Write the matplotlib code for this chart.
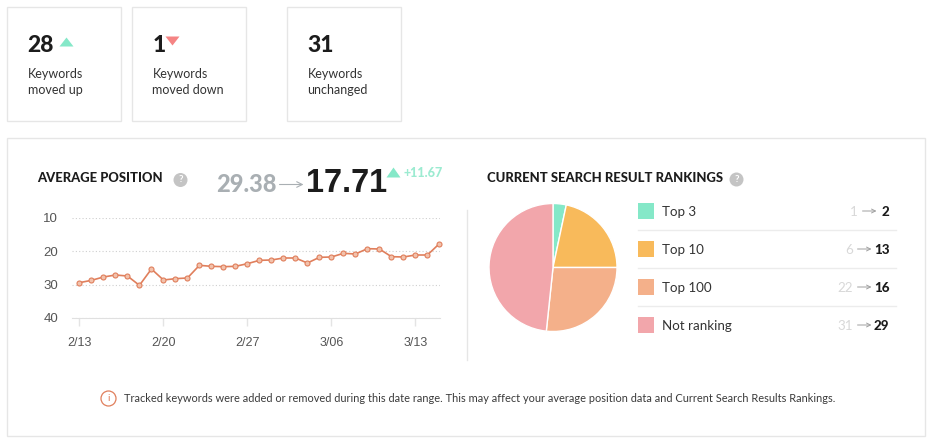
#!/usr/bin/env python3

import numpy as np
import matplotlib.pyplot as plt
from matplotlib.patches import Rectangle, Circle

plt.rcParams['font.family'] = ['Lato', 'DejaVu Sans']

# average position per day, 2/13 to 3/15
positions = [29.4, 28.7, 27.7, 27.1, 27.4, 30.2, 25.3, 28.6, 28.2, 28.0,
             24.2, 24.5, 24.6, 24.5, 23.7, 22.7, 22.6, 22.0, 22.0, 23.5,
             21.8, 21.7, 20.6, 20.8, 19.2, 19.3, 21.6, 21.7, 21.1, 21.1, 17.7]
date_ticks = [0, 7, 14, 21, 28]
date_labels = ['2/13', '2/20', '2/27', '3/06', '3/13']
position_ticks = [10, 20, 30, 40]

# rankings
rank_names = ['Top 3', 'Top 10', 'Top 100', 'Not ranking']
rank_prev = [1, 6, 22, 31]
rank_now = [2, 13, 16, 29]
rank_colors = ['#85E8C8', '#F8BA5B', '#F4B08A', '#F2A6AB']

# summary cards
card_counts = ['28', '1', '31']
card_lines = ['Keywords\nmoved up', 'Keywords\nmoved down', 'Keywords\nunchanged']
card_lefts = [7.5, 132.5, 287.5]

DARK = '#1c1c1c'
BORDER = '#e6e6e6'

fig = plt.figure(figsize=(9.34, 4.46), dpi=100, facecolor='white')

# page layer in pixel coordinates
page = fig.add_axes([0, 0, 1, 1])
page.set_xlim(0.5, 934.5)
page.set_ylim(446.5, 0.5)
page.axis('off')

for left, count, lines in zip(card_lefts, card_counts, card_lines):
    page.add_patch(Rectangle((left, 7.5), 114, 114, fc='white', ec=BORDER, lw=1))
    page.text(left + 20.5, 46, count, fontsize=16.5, fontweight=900, color=DARK, va='center')
    page.text(left + 20.5, 82.5, lines, fontsize=9, color='#333333', va='center', linespacing=1.3)

page.fill([60, 74, 67], [47, 47, 38], color='#85E8C8', lw=0)
page.fill([166, 180, 173], [37, 37, 46], color='#F58484', lw=0)

page.add_patch(Rectangle((7.5, 138.5), 918, 298, fc='white', ec=BORDER, lw=1))
page.plot([467, 467], [210, 360], color=BORDER, lw=1)

# header left
page.text(38, 178.5, 'AVERAGE POSITION', fontsize=9.4, fontweight=900, color=DARK, va='center')
page.add_patch(Circle((181, 180.5), 7, fc='#c4c4c4', ec='none'))
page.text(181, 180.5, '?', fontsize=7, fontweight='bold', color='white', ha='center', va='center')
page.text(217, 184.5, '29.38', fontsize=17, fontweight=900, color='#a9afb3', va='center')
page.annotate('', xy=(304, 185), xytext=(280, 185),
              arrowprops=dict(arrowstyle='->', color='#a9afb3', lw=0.8, shrinkA=0, shrinkB=0))
page.text(306.5, 184.5, '17.71', fontsize=23.5, fontweight='bold', family='Liberation Sans',
          color=DARK, va='center')
page.fill([387, 401, 394], [178, 178, 168], color='#85E8C8', lw=0)
page.text(404, 173.5, '+11.67', fontsize=9, fontweight=900, color='#9CEBD1', va='center')

# header right
page.text(487.5, 178.5, 'CURRENT SEARCH RESULT RANKINGS', fontsize=9.4, fontweight=900,
          color=DARK, va='center')
page.add_patch(Circle((737, 180), 7, fc='#c4c4c4', ec='none'))
page.text(737, 180, '?', fontsize=7, fontweight='bold', color='white', ha='center', va='center')

# rank legend rows
for i, (name, prev, now, color) in enumerate(zip(rank_names, rank_prev, rank_now, rank_colors)):
    y = 211 + i * 38
    page.add_patch(Rectangle((638, y - 8), 16, 16, fc=color, ec='none'))
    page.text(662, y + 1, name, fontsize=9.6, color='#333333', va='center')
    page.text(890, y + 1, str(now), fontsize=9.6, fontweight=900, color=DARK, va='center', ha='right')
    arrow_end = 890 - 8 - 5 * len(str(now))
    page.annotate('', xy=(arrow_end, y + 0.5), xytext=(arrow_end - 14, y + 0.5),
                  arrowprops=dict(arrowstyle='->', color='#a0a0a0', lw=0.7, shrinkA=0, shrinkB=0,
                                  mutation_scale=7))
    page.text(arrow_end - 19, y + 1, str(prev), fontsize=9.6, color='#d8d8d8', va='center', ha='right')
    if i < 3:
        page.plot([638, 896], [y + 19, y + 19], color='#ececec', lw=1)

# footer note
page.add_patch(Circle((109, 399), 7.5, fc='white', ec='#E07F5C', lw=0.9))
page.text(109, 399, 'i', fontsize=7.5, color='#E07F5C', ha='center', va='center')
page.text(125, 398.5, 'Tracked keywords were added or removed during this date range. '
          'This may affect your average position data and Current Search Results Rankings.',
          fontsize=7.88, color='#3a3a3a', va='center')

# line chart, pixel box x 72-440, y 218-318
ax = fig.add_axes([72 / 934, 1 - 318 / 446, 368 / 934, 100 / 446])
days = np.arange(len(positions))
ax.plot(days, positions, color='#E07F5C', lw=1.2, marker='o', ms=3.6,
        mfc='#F2C2AC', mec='#E07F5C', mew=0.8, clip_on=False, zorder=3)
ax.set_xlim(-0.62, 30.05)
ax.set_ylim(40, 10)
ax.set_xticks(date_ticks)
ax.set_xticklabels(date_labels, family='Liberation Sans', fontsize=9, color='#555555')
ax.set_yticks(position_ticks)
ax.set_yticklabels(position_ticks, family='Liberation Sans', fontsize=9.5, color='#555555')
ax.tick_params(axis='x', length=6, color='#e4e4e4', width=1, pad=8)
ax.tick_params(axis='y', length=0, pad=10)
ax.grid(axis='y', color='#cfcfcf', lw=0.8, linestyle=(0, (1, 2)))
ax.set_axisbelow(True)
for side in ['top', 'right', 'left']:
    ax.spines[side].set_visible(False)
ax.spines['bottom'].set_color('#e0e0e0')
ax.patch.set_alpha(0)

# pie, centre 553,267 radius 64
pie = fig.add_axes([489 / 934, 1 - 331.5 / 446, 128 / 934, 128 / 446])
pie.pie(rank_now, colors=rank_colors, startangle=90, counterclock=False, radius=1,
        wedgeprops=dict(edgecolor='white', linewidth=1))
pie.set_xlim(-1, 1)
pie.set_ylim(-1, 1)

fig.savefig('out.png', dpi=100)
